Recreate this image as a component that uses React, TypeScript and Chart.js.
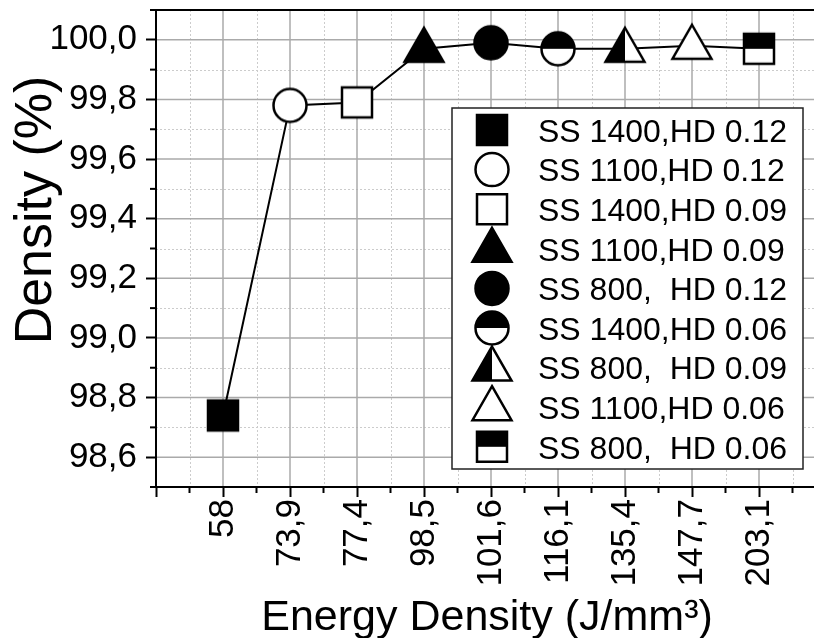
import React, { useEffect, useRef } from "react";
import { Chart, registerables } from "chart.js";

Chart.register(...registerables);

const CATEGORIES = ["58", "73,9", "77,4", "98,5", "101,6", "116,1", "135,4", "147,7", "203,1"];
const DENSITY = [98.74, 99.78, 99.79, 99.97, 99.99, 99.97, 99.97, 99.98, 99.97];
const SERIES_LABELS = [
  "SS 1400,HD 0.12",
  "SS 1100,HD 0.12",
  "SS 1400,HD 0.09",
  "SS 1100,HD 0.09",
  "SS 800,  HD 0.12",
  "SS 1400,HD 0.06",
  "SS 800,  HD 0.09",
  "SS 1100,HD 0.06",
  "SS 800,  HD 0.06",
];
const MARKERS = [
  "squareFilled",
  "circleOpen",
  "squareOpen",
  "triangleFilled",
  "circleFilled",
  "circleTopHalf",
  "triangleLeftHalf",
  "triangleOpen",
  "squareTopHalf",
];
const Y_TICKS = [98.6, 98.8, 99.0, 99.2, 99.4, 99.6, 99.8, 100.0];
const Y_MINOR = [98.5, 98.7, 98.9, 99.1, 99.3, 99.5, 99.7, 99.9, 100.1];
const Y_MIN = 98.5;
const Y_MAX = 100.1;
const X_TITLE = "Energy Density (J/mm\u00B3)";
const Y_TITLE = "Density (%)";

const FONT = "'Liberation Sans', Arial, Helvetica, sans-serif";

function drawMarker(ctx: CanvasRenderingContext2D, type: string, cx: number, cy: number) {
  ctx.save();
  ctx.lineWidth = 2.5;
  ctx.strokeStyle = "#000";
  ctx.lineJoin = "miter";
  const shape = type.startsWith("square") ? "square" : type.startsWith("circle") ? "circle" : "triangle";
  const path = () => {
    ctx.beginPath();
    if (shape === "square") ctx.rect(cx - 15, cy - 15, 30, 30);
    else if (shape === "circle") ctx.arc(cx, cy, 16.5, 0, Math.PI * 2);
    else {
      ctx.moveTo(cx, cy - 21);
      ctx.lineTo(cx + 19.5, cy + 13);
      ctx.lineTo(cx - 19.5, cy + 13);
      ctx.closePath();
    }
  };
  path();
  ctx.fillStyle = type.endsWith("Filled") ? "#000" : "#fff";
  ctx.fill();
  ctx.fillStyle = "#000";
  if (type === "circleTopHalf") {
    ctx.beginPath();
    ctx.arc(cx, cy, 16.5, Math.PI, Math.PI * 2);
    ctx.closePath();
    ctx.fill();
  } else if (type === "squareTopHalf") {
    ctx.fillRect(cx - 15, cy - 15, 30, 15);
  } else if (type === "triangleLeftHalf") {
    ctx.beginPath();
    ctx.moveTo(cx, cy - 21);
    ctx.lineTo(cx, cy + 13);
    ctx.lineTo(cx - 19.5, cy + 13);
    ctx.closePath();
    ctx.fill();
  }
  path();
  ctx.stroke();
  ctx.restore();
}

function makeMarkerCanvas(type: string) {
  const c = document.createElement("canvas");
  c.width = 56;
  c.height = 56;
  const ctx = c.getContext("2d")!;
  drawMarker(ctx, type, 28, 28);
  return c;
}

const framePlugin = {
  id: "frame",
  beforeDraw(chart: any) {
    const { ctx, chartArea: a, scales } = chart;
    const x = scales.x;
    const y = scales.y;
    ctx.save();
    // minor grid (dotted)
    ctx.strokeStyle = "#cccccc";
    ctx.lineWidth = 1;
    ctx.setLineDash([2, 2]);
    Y_MINOR.forEach((v) => {
      const py = Math.round(y.getPixelForValue(v)) + 0.5;
      if (py <= a.top + 2 || py >= a.bottom - 2) return;
      ctx.beginPath();
      ctx.moveTo(a.left, py);
      ctx.lineTo(a.right, py);
      ctx.stroke();
    });
    [...CATEGORIES.map((_, i) => i - 0.5), CATEGORIES.length - 0.5].forEach((v) => {
      const px = Math.round(x.getPixelForValue(v)) + 0.5;
      ctx.beginPath();
      ctx.moveTo(px, a.top);
      ctx.lineTo(px, a.bottom);
      ctx.stroke();
    });
    // major grid
    ctx.setLineDash([]);
    ctx.strokeStyle = "#aaaaaa";
    ctx.lineWidth = 1.5;
    Y_TICKS.forEach((v) => {
      const py = y.getPixelForValue(v);
      ctx.beginPath();
      ctx.moveTo(a.left, py);
      ctx.lineTo(a.right, py);
      ctx.stroke();
    });
    CATEGORIES.forEach((_, i) => {
      const px = x.getPixelForValue(i);
      ctx.beginPath();
      ctx.moveTo(px, a.top);
      ctx.lineTo(px, a.bottom);
      ctx.stroke();
    });
    ctx.restore();
  },
  afterDraw(chart: any) {
    const { ctx, chartArea: a, scales } = chart;
    const x = scales.x;
    const y = scales.y;
    ctx.save();
    // top frame line
    ctx.strokeStyle = "#000";
    ctx.lineWidth = 2;
    ctx.beginPath();
    ctx.moveTo(a.left - 1, a.top);
    ctx.lineTo(a.right, a.top);
    ctx.stroke();
    // minor ticks
    ctx.lineWidth = 2;
    Y_MINOR.forEach((v) => {
      const py = y.getPixelForValue(v);
      ctx.beginPath();
      ctx.moveTo(a.left - 6, py);
      ctx.lineTo(a.left, py);
      ctx.stroke();
    });
    [...CATEGORIES.map((_, i) => i - 0.5), CATEGORIES.length - 0.5].forEach((v) => {
      const px = x.getPixelForValue(v);
      ctx.beginPath();
      ctx.moveTo(px, a.bottom);
      ctx.lineTo(px, a.bottom + 6);
      ctx.stroke();
    });

    // legend
    const lx = 452, ly = 108, lw = 351, lh = 361;
    ctx.fillStyle = "#fff";
    ctx.fillRect(lx, ly, lw, lh);
    ctx.strokeStyle = "#222";
    ctx.lineWidth = 1.5;
    ctx.strokeRect(lx, ly, lw, lh);
    ctx.font = `32px ${FONT}`;
    ctx.textBaseline = "middle";
    ctx.textAlign = "left";
    SERIES_LABELS.forEach((label, i) => {
      const ry = 130 + i * 39.6;
      drawMarker(ctx, MARKERS[i], 492, ry);
      ctx.fillStyle = "#000";
      ctx.fillText(label, 538, ry + 3);
    });

    // axis titles
    ctx.fillStyle = "#000";
    ctx.font = `43px ${FONT}`;
    ctx.textAlign = "center";
    ctx.textBaseline = "alphabetic";
    ctx.fillText(X_TITLE, 487, 630);

    ctx.save();
    ctx.translate(51, 210);
    ctx.rotate(-Math.PI / 2);
    ctx.font = `52px ${FONT}`;
    ctx.textAlign = "center";
    ctx.textBaseline = "alphabetic";
    ctx.fillText(Y_TITLE, 0, 0);
    ctx.restore();

    ctx.restore();
  },
};

export default function App() {
  const ref = useRef<HTMLCanvasElement | null>(null);

  useEffect(() => {
    const canvas = ref.current;
    if (!canvas) return;
    const markerImages = MARKERS.map(makeMarkerCanvas);
    const chart = new Chart(canvas, {
      type: "line",
      data: {
        datasets: [
          {
            label: "Density",
            data: DENSITY.map((v, i) => ({ x: i, y: v })),
            borderColor: "#000",
            borderWidth: 2,
            tension: 0,
            fill: false,
            pointStyle: markerImages as any,
            pointRadius: 18,
            pointHoverRadius: 18,
            clip: false as any,
          },
        ],
      },
      options: {
        animation: false,
        responsive: false,
        devicePixelRatio: 1,
        events: [],
        layout: { autoPadding: false, padding: { top: 10, right: 14, left: 0, bottom: 0 } },
        plugins: { legend: { display: false }, tooltip: { enabled: false } },
        scales: {
          x: {
            type: "linear",
            min: -1,
            max: 9,
            afterFit: (s: any) => {
              s.height = 151;
              s.paddingLeft = 0;
              s.paddingRight = 0;
              s.paddingTop = 0;
              s.paddingBottom = 0;
            },
            afterBuildTicks: (s: any) => {
              s.ticks = [-1, ...CATEGORIES.map((_, i) => i)].map((v) => ({ value: v }));
            },
            ticks: {
              autoSkip: false,
              minRotation: 90,
              maxRotation: 90,
              padding: 2,
              color: "#000",
              font: { family: FONT, size: 35 },
              callback: (v: any) => CATEGORIES[v as number] ?? "",
            },
            grid: { drawOnChartArea: false, drawTicks: true, tickLength: 10, tickColor: "#000", tickWidth: 2 },
            border: { display: true, color: "#000", width: 2 },
          },
          y: {
            type: "linear",
            min: Y_MIN,
            max: Y_MAX,
            afterFit: (s: any) => {
              s.width = 156;
              s.paddingLeft = 0;
              s.paddingRight = 0;
              s.paddingTop = 0;
              s.paddingBottom = 0;
            },
            afterBuildTicks: (s: any) => {
              s.ticks = Y_TICKS.map((v) => ({ value: v }));
            },
            ticks: {
              padding: 9,
              color: "#000",
              font: { family: FONT, size: 35 },
              callback: (v: any) => Number(v).toFixed(1).replace(".", ","),
            },
            grid: { drawOnChartArea: false, drawTicks: true, tickLength: 10, tickColor: "#000", tickWidth: 2 },
            border: { display: true, color: "#000", width: 2 },
          },
        },
      },
      plugins: [framePlugin],
    });
    return () => chart.destroy();
  }, []);

  return (
    <div style={{ position: "fixed", left: 0, top: 0, width: 814, height: 638, overflow: "hidden", background: "#fff" }}>
      <canvas ref={ref} width={840} height={638} style={{ width: 840, height: 638, display: "block" }} />
    </div>
  );
}
